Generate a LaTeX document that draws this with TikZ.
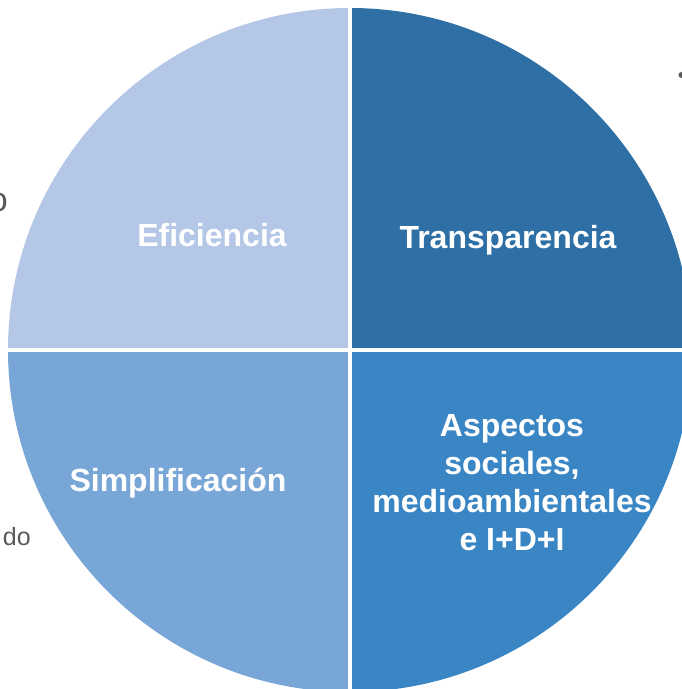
\documentclass[tikz,border=0pt]{standalone}
\usepackage{fontspec}
\setmainfont{Liberation Sans}
\usepackage{xcolor}
\usepackage{tikz}
\definecolor{quadlight}{RGB}{180, 199, 231}
\definecolor{quaddark}{RGB}{46, 112, 165}
\definecolor{quadmid}{RGB}{120, 167, 215}
\definecolor{quadbright}{RGB}{58, 134, 196}
\definecolor{sidegray}{RGB}{89, 89, 89}

\begin{document}
\begin{tikzpicture}[x=1pt, y=1pt,
        quadlabel/.style={text=white, font=\bfseries\fontsize{32}{38}\selectfont, align=center},
        sidetext/.style={text=sidegray, font=\fontsize{25}{30}\selectfont, inner sep=0pt}]
        \useasboundingbox (0,0) rectangle (681,689);

        % cuadrantes
        \fill[quadlight] (350,339) -- (8,339) arc (180:90:342) -- cycle;
        \fill[quaddark] (350,339) -- (350,681) arc (90:0:342) -- cycle;
        \fill[quadmid] (350,339) -- (350,-3) arc (270:180:342) -- cycle;
        \fill[quadbright] (350,339) -- (692,339) arc (0:-90:342) -- cycle;

        % separaciones blancas
        \draw[white, line width=4pt] (350,-10) -- (350,700);
        \draw[white, line width=4pt] (0,339) -- (700,339);

        % etiquetas
        \node[quadlabel] (efic) at (212,454) {Eficiencia};
        \node[quadlabel] (transp) at (508,449) {Transparencia};
        \node[quadlabel] (simpl) at (178,206) {Simplificación};
        \node[quadlabel] (aspect) at (512,206) {Aspectos\\sociales,\\medioambientales\\e I+D+I};

        % textos cortados del margen
        \node[sidetext, anchor=east, font=\fontsize{34}{40}\selectfont] (lefttop) at (8,486) {o};
        \node[sidetext, anchor=base east] (leftbot) at (31,143) {do};
        \fill[sidegray] (681.5,614) circle (3);
    \end{tikzpicture}
\end{document}
